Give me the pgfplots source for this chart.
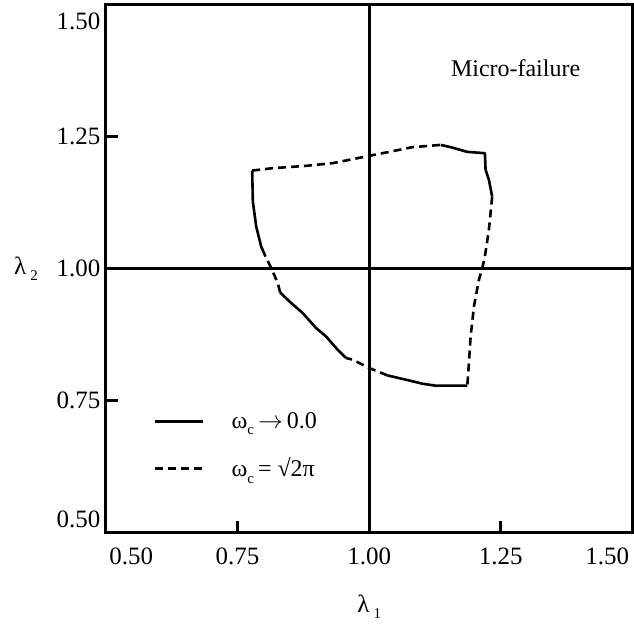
\documentclass[border=0pt]{standalone}
\usepackage{fontspec}
\setmainfont{Liberation Serif}
\usepackage{pgfplots}
\pgfplotsset{compat=1.18}
\newcommand{\sub}[1]{\raisebox{-0.55ex}{\fontsize{15}{15}\selectfont #1}}
\begin{document}
\begin{tikzpicture}
\begin{axis}[
  name=ax,
  scale only axis,
  width=527pt, height=528pt,
  xmin=0.5, xmax=1.5, ymin=0.5, ymax=1.5,
  axis line style={line width=3pt},
  tick pos=left,
  tick align=inside,
  major tick length=12pt,
  tick style={line width=2.8pt, black},
  xtick={0.75,1.25},
  xticklabels={0.75,1.25},
  ytick={0.75,1.25},
  yticklabels={0.75,1.25},
  extra x ticks={0.548,1.0,1.452},
  extra x tick labels={0.50,1.00,1.50},
  extra y ticks={0.525,1.0,1.468},
  extra y tick labels={0.50,1.00,1.50},
  extra tick style={major tick length=0pt},
  /pgf/number format/assume math mode=true,
  ticklabel style={font=\fontsize{25}{28}\selectfont},
  xticklabel style={yshift=-12pt},
  yticklabel style={xshift=-2pt},
  xlabel={λ\,\sub{1}},
  ylabel={λ\,\sub{2}},
  every axis x label/.style={at={(axis description cs:0.5,0)}, anchor=center, yshift=-74pt, font=\fontsize{25}{28}\selectfont},
  every axis y label/.style={at={(axis description cs:0,0.5)}, anchor=center, xshift=-80pt, font=\fontsize{25}{28}\selectfont},
  legend image code/.code={\draw[#1] (0pt,0pt) -- (48pt,0pt);},
  legend cell align=left,
  legend style={at={(axis description cs:0.091,0.165)}, anchor=west, draw=none, fill=none,
    inner sep=0pt, column sep=27pt, row sep=28pt, font=\fontsize{24}{26}\selectfont,
    nodes={inner sep=0pt}},
  clip=false,
]
\pgfplotsset{cur/.style={black, line width=2.6pt, line join=round, line cap=butt}, dsh/.style={cur, dash pattern=on 8pt off 5pt}}
% axes through 1,1
\addplot[black, line width=2.7pt, forget plot] coordinates {(1,0.5) (1,1.5)};
\addplot[black, line width=2.7pt, forget plot] coordinates {(0.5,1) (1.5,1)};
% top dashed
\addplot[dsh, forget plot] coordinates {(0.7778,1.1862) (0.8169,1.1907) (0.8801,1.1951) (0.9305,1.2002) (1.0,1.2140) (1.0506,1.2241) (1.0820,1.2305) (1.1358,1.2348)};
% top-right solid
\addplot[cur, forget plot] coordinates {(1.1358,1.2348) (1.1547,1.2305) (1.1862,1.2216) (1.2197,1.2191) (1.2210,1.1875) (1.2273,1.1686) (1.2335,1.1369)};
% right dashed
\addplot[dsh, forget plot] coordinates {(1.2335,1.1369) (1.2273,1.0739) (1.2197,1.0233) (1.2140,0.9981) (1.2083,0.9792) (1.1989,0.9286) (1.1926,0.8718) (1.1881,0.8025) (1.1862,0.7784)};
% bottom solid
\addplot[cur, forget plot] coordinates {(1.1862,0.7784) (1.1263,0.7784) (1.1010,0.7822) (1.0695,0.7898) (1.0347,0.7979)};
% bottom dashed
\addplot[dsh, forget plot] coordinates {(1.0347,0.7979) (1.0,0.8119) (0.9684,0.8277) (0.9559,0.8309)};
% lower-left solid
\addplot[cur, forget plot] coordinates {(0.9559,0.8309) (0.9400,0.8466) (0.9180,0.8718) (0.8991,0.8877) (0.8737,0.9161) (0.8485,0.9381) (0.8309,0.9551)};
% left dashed
\addplot[dsh, forget plot] coordinates {(0.8309,0.9551) (0.8263,0.9729) (0.8138,1.0019) (0.8030,1.0233)};
% left solid
\addplot[cur, forget plot] coordinates {(0.8030,1.0233) (0.7949,1.0422) (0.7854,1.0801) (0.7790,1.1275) (0.7778,1.1862)};
% legend
\addlegendimage{cur}
\addlegendentry{ω\sub{c}\,$\rightarrow$\,0.0}
\addlegendimage{dsh}
\addlegendentry{ω\sub{c}\,= √2π}
\node[font=\fontsize{24}{26}\selectfont] at (axis cs:1.278,1.381) {Micro-failure};
\end{axis}
\path (ax.south west) ++(-106pt,-95pt);
\path (ax.north east) ++(1.5pt,5pt);
\end{tikzpicture}
\end{document}
